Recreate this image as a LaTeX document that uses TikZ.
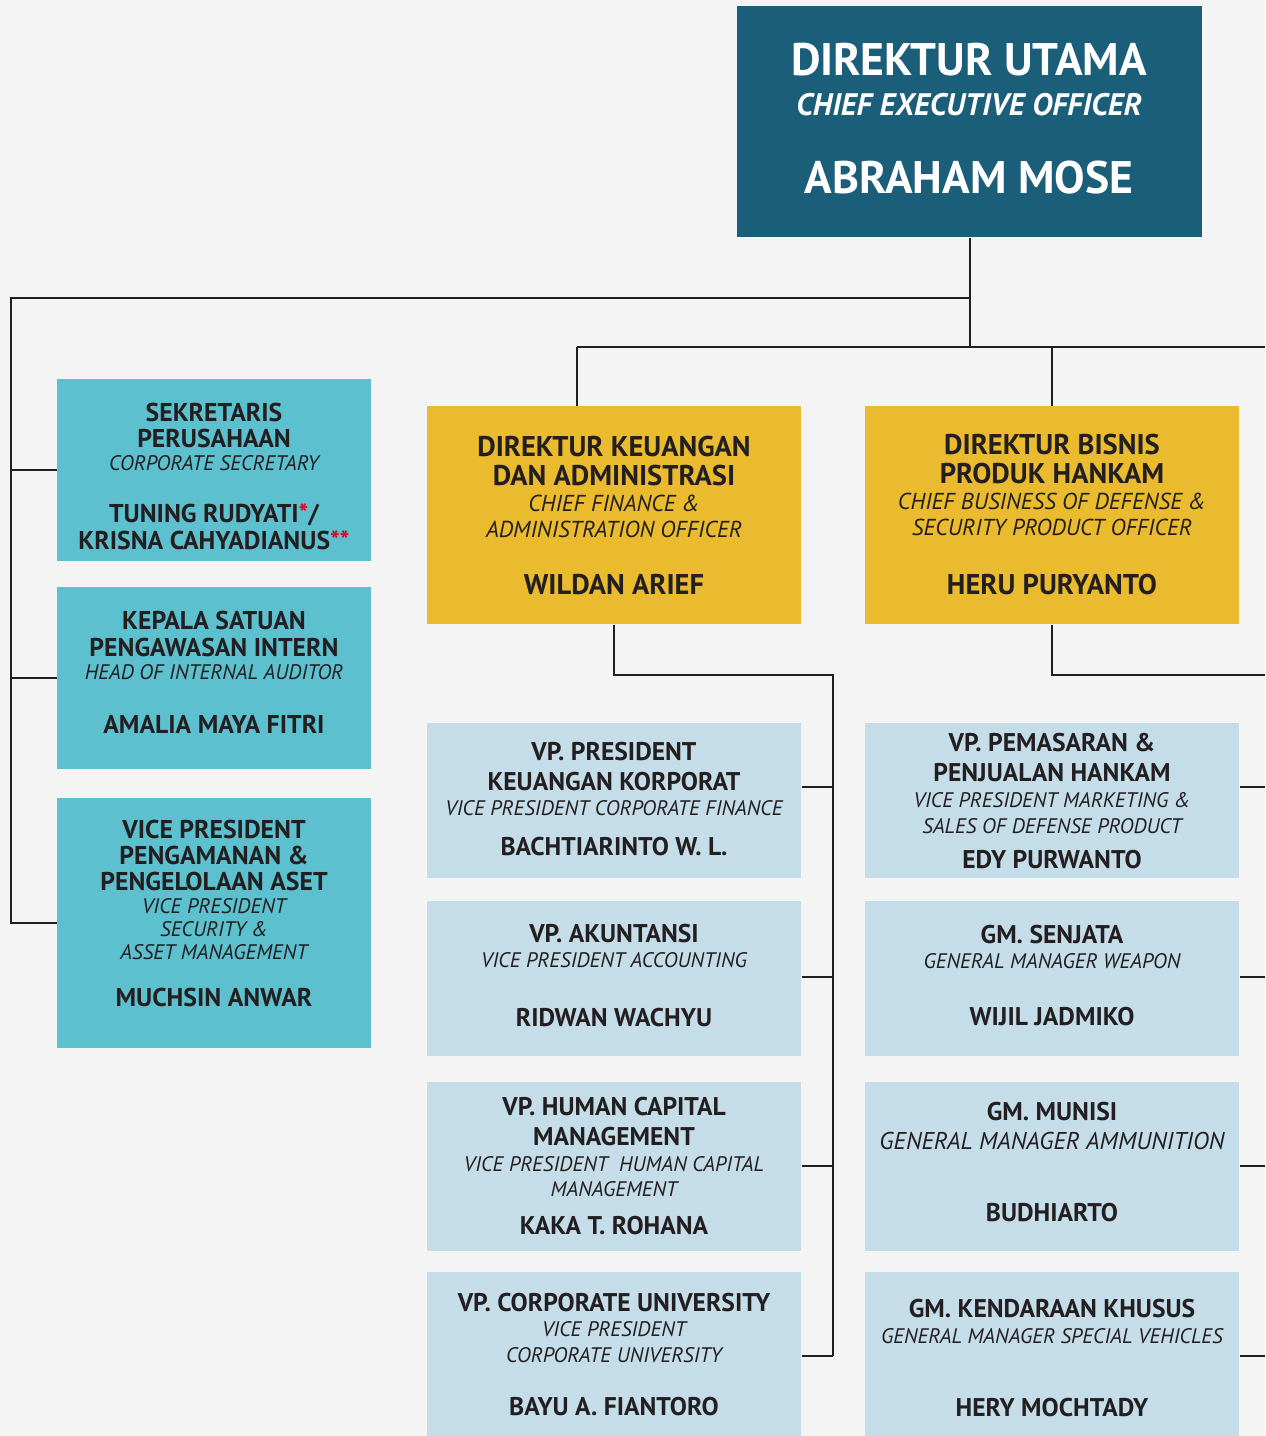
\documentclass[tikz,border=0pt]{standalone}
\usepackage{fontspec}
\setmainfont{PT Sans}
\definecolor{bg}{HTML}{F4F4F4}
\definecolor{ink}{HTML}{231F20}
\definecolor{ceoc}{HTML}{1B5E7A}
\definecolor{cyanc}{HTML}{5CC0CF}
\definecolor{yelc}{HTML}{EBBB2F}
\definecolor{lblue}{HTML}{C5DDE8}
\definecolor{redc}{HTML}{E3001B}
\newcounter{tc}
\newcommand\T[4]{\stepcounter{tc}\node[#1] (t\arabic{tc}) at (#2,#3) {#4};}
\tikzset{
  box/.style={draw=none, inner sep=0pt, anchor=north west},
  conn/.style={draw=ink, line width=1.5pt},
  txt/.style={inner sep=0pt, text=ink, text depth=0pt},
  cb/.style={txt, text=white, font=\bfseries\fontsize{34.2}{34}\selectfont, text height=23.9pt},
  ci/.style={txt, text=white, font=\bfseries\itshape\fontsize{23.3}{23}\selectfont, text height=16.3pt},
  lb/.style={txt, font=\bfseries\fontsize{19.3}{19}\selectfont, text height=13.5pt},
  li/.style={txt, font=\itshape\fontsize{15.8}{16}\selectfont, text height=11.1pt},
  yb/.style={txt, font=\bfseries\fontsize{21.4}{21}\selectfont, text height=15pt},
  yi/.style={txt, font=\itshape\fontsize{17.3}{17}\selectfont, text height=12.1pt},
  bb/.style={txt, font=\bfseries\fontsize{19.2}{19}\selectfont, text height=13.4pt},
  bi/.style={txt, font=\itshape\fontsize{15.8}{16}\selectfont, text height=11.1pt},
  bi2/.style={txt, font=\itshape\fontsize{18.2}{18}\selectfont, text height=12.7pt},
}
\begin{document}
\begin{tikzpicture}[x=0.75pt,y=-0.75pt]
\fill[bg] (0,0) rectangle (1265,1436);
\useasboundingbox (0,0) rectangle (1265,1436);
% boxes
\node[box, fill=ceoc, minimum width=465*0.75pt, minimum height=231*0.75pt] (ceo) at (737,6) {};
\node[box, fill=cyanc, minimum width=314*0.75pt, minimum height=182*0.75pt] (sek) at (57,379) {};
\node[box, fill=cyanc, minimum width=314*0.75pt, minimum height=182*0.75pt] (spi) at (57,587) {};
\node[box, fill=cyanc, minimum width=314*0.75pt, minimum height=250*0.75pt] (vpa) at (57,798) {};
\node[box, fill=yelc, minimum width=374*0.75pt, minimum height=218*0.75pt] (dka) at (427,406) {};
\node[box, fill=yelc, minimum width=374*0.75pt, minimum height=218*0.75pt] (dkb) at (865,406) {};
\node[box, fill=lblue, minimum width=374*0.75pt, minimum height=155*0.75pt] (a1) at (427,723) {};
\node[box, fill=lblue, minimum width=374*0.75pt, minimum height=155*0.75pt] (a2) at (427,901) {};
\node[box, fill=lblue, minimum width=374*0.75pt, minimum height=169*0.75pt] (a3) at (427,1082) {};
\node[box, fill=lblue, minimum width=374*0.75pt, minimum height=168*0.75pt] (a4) at (427,1272) {};
\node[box, fill=lblue, minimum width=374*0.75pt, minimum height=155*0.75pt] (b1) at (865,723) {};
\node[box, fill=lblue, minimum width=374*0.75pt, minimum height=155*0.75pt] (b2) at (865,901) {};
\node[box, fill=lblue, minimum width=374*0.75pt, minimum height=169*0.75pt] (b3) at (865,1082) {};
\node[box, fill=lblue, minimum width=374*0.75pt, minimum height=168*0.75pt] (b4) at (865,1272) {};
% coordinates
\coordinate (j1) at (ceo.south |- 0,298);
\coordinate (j2) at (ceo.south |- 0,347);
\coordinate (lx) at (11,0);
\coordinate (ya) at (577,347);
\coordinate (re) at (1265,0);
\coordinate (sa) at (833,675);
\coordinate (s1) at (833,787);
\coordinate (s2) at (833,977);
\coordinate (s3) at (833,1166);
\coordinate (s4) at (833,1356);
% connectors
\draw[conn] (ceo.south) -- (j2);
\draw[conn] (j1) -- (j1 -| lx) -- (vpa.west -| lx) -- (vpa.west);
\draw[conn] (sek.west) -- (sek.west -| lx);
\draw[conn] (spi.west) -- (spi.west -| lx);
\draw[conn] (ya) -- (j2 -| re);
\draw[conn] (ya) -- (ya |- dka.north);
\draw[conn] (dkb.north |- j2) -- (dkb.north);
\draw[conn] (dka.south) |- (sa) -- (s4);
\draw[conn] (dkb.south) |- (sa -| re);
\draw[conn] (s1) -- (s1 -| a1.east);
\draw[conn] (s2) -- (s2 -| a2.east);
\draw[conn] (s3) -- (s3 -| a3.east);
\draw[conn] (s4) -- (s4 -| a4.east);
\draw[conn] (s1 -| b1.east) -- (s1 -| re);
\draw[conn] (s2 -| b2.east) -- (s2 -| re);
\draw[conn] (s3 -| b3.east) -- (s3 -| re);
\draw[conn] (s4 -| b4.east) -- (s4 -| re);
% CEO text
\T{cb}{969}{60}{DIREKTUR UTAMA}
\T{ci}{969}{105}{CHIEF EXECUTIVE OFFICER}
\T{cb}{969}{178}{ABRAHAM MOSE}
% left boxes
\T{lb}{214}{412}{SEKRETARIS}
\T{lb}{214}{438}{PERUSAHAAN}
\T{li}{214}{463}{CORPORATE SECRETARY}
\T{lb}{214}{513}{TUNING RUDYATI\textcolor{redc}{*}/}
\T{lb}{214}{540}{KRISNA CAHYADIANUS\textcolor{redc}{**}}
\T{lb}{214}{620}{KEPALA SATUAN}
\T{lb}{214}{647}{PENGAWASAN INTERN}
\T{li}{214}{672}{HEAD OF INTERNAL AUDITOR}
\T{lb}{214}{724}{AMALIA MAYA FITRI}
\T{lb}{214}{829}{VICE PRESIDENT}
\T{lb}{214}{855}{PENGAMANAN \&}
\T{lb}{214}{881}{PENGELOLAAN ASET}
\T{li}{214}{906}{VICE PRESIDENT}
\T{li}{214}{929}{SECURITY \&}
\T{li}{214}{952}{ASSET MANAGEMENT}
\T{lb}{214}{997}{MUCHSIN ANWAR}
% yellow boxes
\T{yb}{614}{446}{DIREKTUR KEUANGAN}
\T{yb}{614}{475}{DAN ADMINISTRASI}
\T{yi}{614}{503}{CHIEF FINANCE \&}
\T{yi}{614}{529}{ADMINISTRATION OFFICER}
\T{yb}{614}{584}{WILDAN ARIEF}
\T{yb}{1052}{444}{DIREKTUR BISNIS}
\T{yb}{1052}{473}{PRODUK HANKAM}
\T{yi}{1052}{501}{CHIEF BUSINESS OF DEFENSE \&}
\T{yi}{1052}{527}{SECURITY PRODUCT OFFICER}
\T{yb}{1052}{584}{HERU PURYANTO}
% light blue column A
\T{bb}{614}{752}{VP. PRESIDENT}
\T{bb}{614}{782}{KEUANGAN KORPORAT}
\T{bi}{614}{808}{VICE PRESIDENT CORPORATE FINANCE}
\T{bb}{614}{847}{BACHTIARINTO W. L.}
\T{bb}{614}{934}{VP. AKUNTANSI}
\T{bi}{614}{960}{VICE PRESIDENT ACCOUNTING}
\T{bb}{614}{1018}{RIDWAN WACHYU}
\T{bb}{614}{1107}{VP. HUMAN CAPITAL}
\T{bb}{614}{1137}{MANAGEMENT}
\T{bi}{614}{1164}{VICE PRESIDENT\ \ HUMAN CAPITAL}
\T{bi}{614}{1189}{MANAGEMENT}
\T{bb}{614}{1226}{KAKA T. ROHANA}
\T{bb}{614}{1303}{VP. CORPORATE UNIVERSITY}
\T{bi}{614}{1329}{VICE PRESIDENT}
\T{bi}{614}{1355}{CORPORATE UNIVERSITY}
\T{bb}{614}{1407}{BAYU A. FIANTORO}
% light blue column B
\T{bb}{1052}{743}{VP. PEMASARAN \&}
\T{bb}{1052}{773}{PENJUALAN HANKAM}
\T{bi}{1052}{800}{VICE PRESIDENT MARKETING \&}
\T{bi}{1052}{826}{SALES OF DEFENSE PRODUCT}
\T{bb}{1052}{860}{EDY PURWANTO}
\T{bb}{1052}{935}{GM. SENJATA}
\T{bi}{1052}{961}{GENERAL MANAGER WEAPON}
\T{bb}{1052}{1017}{WIJIL JADMIKO}
\T{bb}{1052}{1112}{GM. MUNISI}
\T{bi2}{1052}{1141}{GENERAL MANAGER AMMUNITION}
\T{bb}{1052}{1213}{BUDHIARTO}
\T{bb}{1052}{1309}{GM. KENDARAAN KHUSUS}
\T{bi}{1052}{1336}{GENERAL MANAGER SPECIAL VEHICLES}
\T{bb}{1052}{1408}{HERY MOCHTADY}
\end{tikzpicture}
\end{document}
